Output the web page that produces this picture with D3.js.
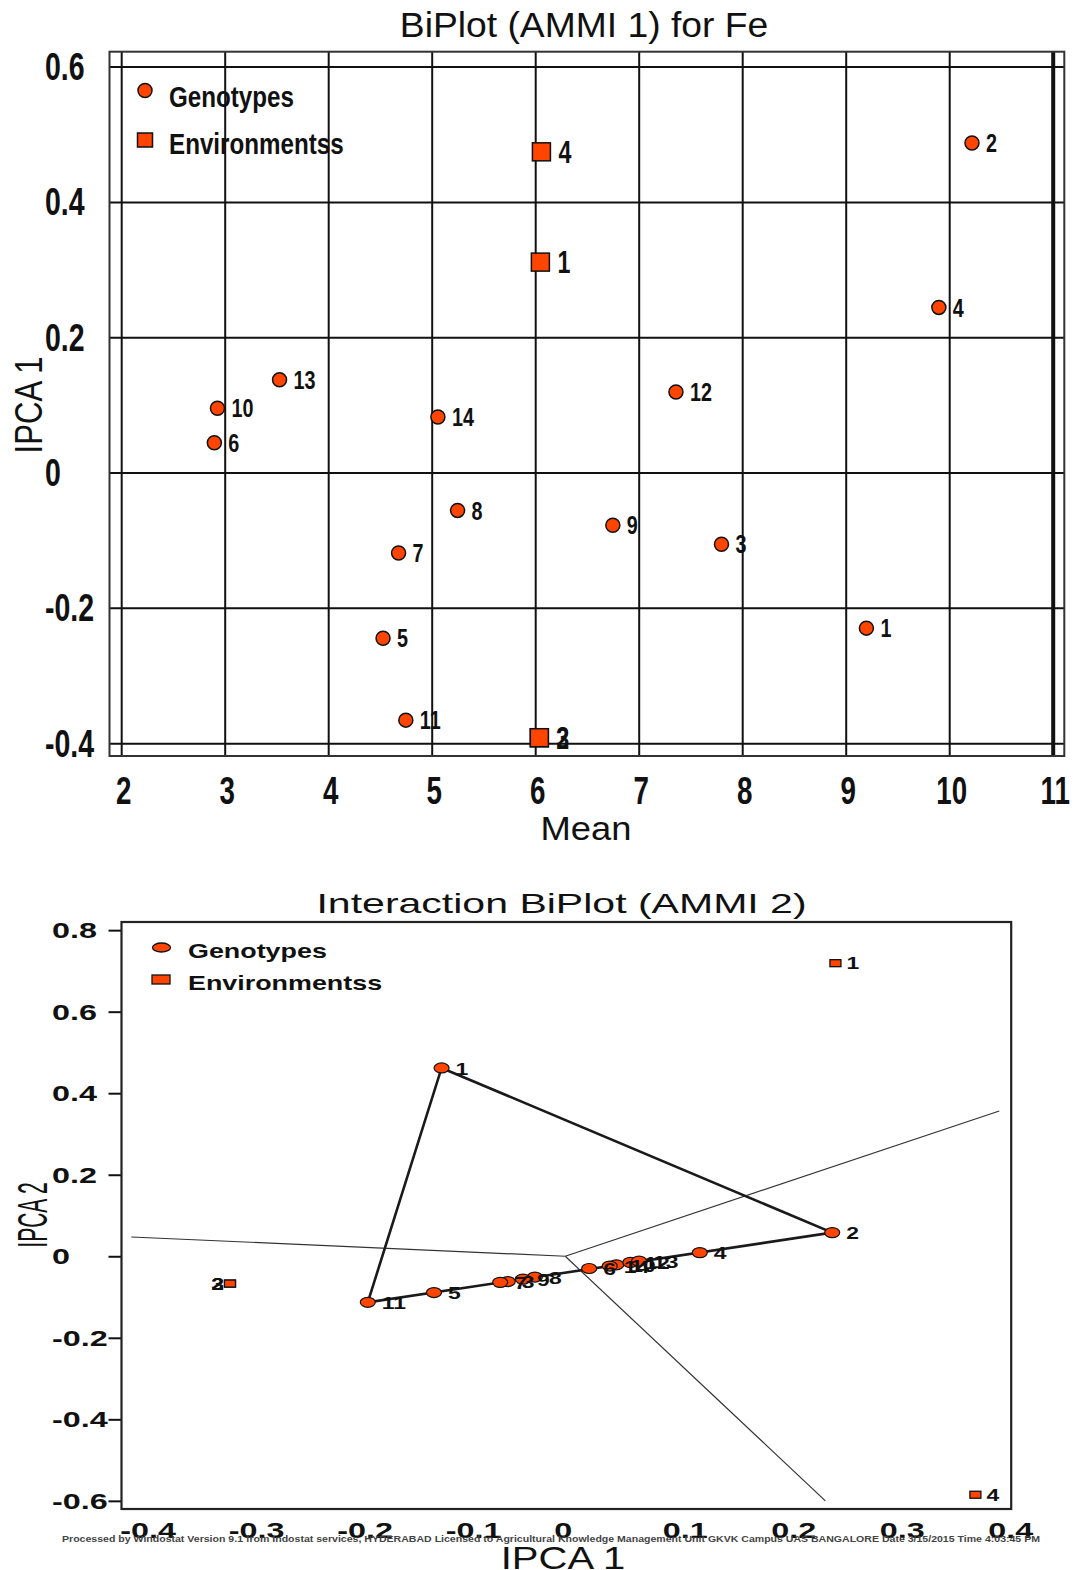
<!DOCTYPE html>
<html>
<head>
<meta charset="utf-8">
<script src="https://cdn.jsdelivr.net/npm/d3@7"></script>
<style>
  body { margin: 0; background: #fff; }
  svg { display: block; }
</style>
</head>
<body>
<svg id="chart" width="1078" height="1570"></svg>
<script>
// AMMI 1: genotype / environment mean vs IPCA 1
const genotypes = ['1', '2', '3', '4', '5', '6', '7', '8', '9', '10', '11', '12', '13', '14'];
const genoMean = [9.20, 10.22, 7.80, 9.90, 4.53, 2.90, 4.68, 5.25, 6.75, 2.93, 4.75, 7.36, 3.53, 5.06];
const genoIpca1 = [-0.230, 0.487, -0.106, 0.244, -0.245, 0.044, -0.119, -0.056, -0.078, 0.095, -0.366, 0.119, 0.137, 0.082];

const environments = ['1', '2', '3', '4'];
const envMean = [6.05, 6.04, 6.04, 6.06];
const envIpca1 = [0.311, -0.392, -0.392, 0.474];

// AMMI 2: IPCA 1 vs IPCA 2
const genoPc1 = [-0.114, 0.246, -0.053, 0.124, -0.121, 0.022, -0.060, -0.028, -0.039, 0.047, -0.182, 0.060, 0.068, 0.041];
const genoPc2 = [0.462, 0.058, -0.062, 0.009, -0.089, -0.030, -0.064, -0.051, -0.056, -0.021, -0.113, -0.015, -0.012, -0.024];
const envPc1 = [0.249, -0.309, -0.309, 0.378];
const envPc2 = [0.719, -0.067, -0.067, -0.585];
const hullGenotypes = ['1', '2', '11'];

const meanTicks = [2, 3, 4, 5, 6, 7, 8, 9, 10, 11];
const ipca1Ticks = [-0.4, -0.2, 0, 0.2, 0.4, 0.6];
const pc1Ticks = [-0.4, -0.3, -0.2, -0.1, 0, 0.1, 0.2, 0.3, 0.4];
const pc2Ticks = [-0.6, -0.4, -0.2, 0, 0.2, 0.4, 0.6, 0.8];

const legendItems = ['Genotypes', 'Environmentss'];

const ORANGE = '#ff4500';
const INK = '#111';
const FONT = '"Liberation Sans", Arial, sans-serif';
const fmt = (d) => String(+d.toFixed(1));

const svg = d3.select('#chart');

function addText(parent, str, x, y, o) {
  let tf = `translate(${x},${y})`;
  if (o.rotate) tf += ` rotate(${o.rotate})`;
  tf += ` scale(${o.sx || 1},${o.sy || 1})`;
  return parent.append('text')
    .attr('transform', tf)
    .attr('text-anchor', o.anchor || 'start')
    .attr('dy', o.dy || 0)
    .style('font-family', FONT)
    .style('font-size', `${o.size}px`)
    .style('font-weight', o.weight || 'normal')
    .attr('fill', o.fill || INK)
    .text(str);
}

// restyle tick labels of a d3 axis
function styleTicks(axisG, o) {
  axisG.selectAll('.tick text')
    .attr('x', null).attr('y', null).attr('dy', null)
    .attr('text-anchor', o.anchor)
    .attr('dominant-baseline', 'central')
    .attr('transform', `translate(${o.dx},${o.dy}) scale(${o.sx},1)`)
    .attr('fill', INK)
    .style('font-family', FONT)
    .style('font-size', `${o.size}px`)
    .style('font-weight', 'bold');
}

function drawAmmi1() {
  const x = d3.scaleLinear().domain([1.887, 11.112]).range([109.5, 1064.3]);
  const y = d3.scaleLinear().domain([-0.419, 0.622]).range([756, 51.7]);
  const g = svg.append('g');
  const [x0, x1] = x.range();
  const [y0, y1] = y.range();

  // grid through the axes
  const xAxis = g.append('g')
    .attr('transform', `translate(0,${y0})`)
    .call(d3.axisBottom(x).tickValues(meanTicks).tickFormat(fmt).tickSize(-(y0 - y1)));
  xAxis.select('.domain').remove();
  xAxis.selectAll('.tick line')
    .attr('stroke', INK)
    .attr('stroke-width', (d) => (d === 11 ? 4 : 2));
  styleTicks(xAxis, { anchor: 'middle', dx: 2, dy: 35, sx: 0.73, size: 38 });

  const yAxis = g.append('g')
    .attr('transform', `translate(${x0},0)`)
    .call(d3.axisLeft(y).tickValues(ipca1Ticks).tickFormat(fmt).tickSize(-(x1 - x0)));
  yAxis.select('.domain').remove();
  yAxis.selectAll('.tick line').attr('stroke', INK).attr('stroke-width', 2);
  styleTicks(yAxis, { anchor: 'start', dx: 45 - x0, dy: 0, sx: 0.75, size: 38 });

  g.append('rect')
    .attr('x', x0).attr('y', y1)
    .attr('width', x1 - x0).attr('height', y0 - y1)
    .attr('fill', 'none').attr('stroke', '#333').attr('stroke-width', 2);

  // environments
  const envs = environments.map((e, i) => ({ name: e, x: envMean[i], y: envIpca1[i] }));
  g.selectAll('.env')
    .data(envs).enter().append('rect')
    .attr('x', (d) => x(d.x) - 9).attr('y', (d) => y(d.y) - 9)
    .attr('width', 18).attr('height', 18)
    .attr('fill', ORANGE).attr('stroke', INK).attr('stroke-width', 1.5);
  envs.forEach((d) => addText(g, d.name, x(d.x) + 17, y(d.y), { size: 31, weight: 'bold', sx: 0.75, dy: '0.35em' }));

  // genotypes
  const genos = genotypes.map((n, i) => ({ name: n, x: genoMean[i], y: genoIpca1[i] }));
  g.selectAll('.geno')
    .data(genos).enter().append('circle')
    .attr('cx', (d) => x(d.x)).attr('cy', (d) => y(d.y))
    .attr('r', 7)
    .attr('fill', ORANGE).attr('stroke', INK).attr('stroke-width', 1.5);
  genos.forEach((d) => addText(g, d.name, x(d.x) + 14, y(d.y), { size: 26, weight: 'bold', sx: 0.76, dy: '0.35em' }));

  // legend
  g.append('circle').attr('cx', 145).attr('cy', 90.5).attr('r', 7)
    .attr('fill', ORANGE).attr('stroke', INK).attr('stroke-width', 1.5);
  g.append('rect').attr('x', 137.5).attr('y', 133).attr('width', 15).attr('height', 14)
    .attr('fill', ORANGE).attr('stroke', INK).attr('stroke-width', 1.5);
  addText(g, legendItems[0], 169, 107, { size: 29.5, weight: 'bold', sx: 0.82 });
  addText(g, legendItems[1], 169, 154, { size: 29.5, weight: 'bold', sx: 0.82 });

  addText(g, 'BiPlot (AMMI 1) for Fe', 584, 37, { size: 34.5, anchor: 'middle', sx: 1.08 });
  addText(g, 'Mean', 586, 840, { size: 32.5, anchor: 'middle', sx: 1.12 });
  addText(g, 'IPCA 1', 42, 405, { size: 38, anchor: 'middle', rotate: -90, sx: 0.82 });
}

function drawAmmi2() {
  const x = d3.scaleLinear().domain([-0.409, 0.411]).range([121.5, 1011.2]);
  const y = d3.scaleLinear().domain([-0.62, 0.82]).range([1509, 922]);
  const g = svg.append('g');
  const [x0, x1] = x.range();
  const [y0, y1] = y.range();
  const S = 1.47;

  const yAxis = g.append('g')
    .attr('transform', `translate(${x0},0)`)
    .call(d3.axisLeft(y).tickValues(pc2Ticks).tickFormat(fmt).tickSize(13));
  yAxis.select('.domain').remove();
  yAxis.selectAll('.tick line').attr('stroke', INK).attr('stroke-width', 2);
  styleTicks(yAxis, { anchor: 'start', dx: 52 - x0, dy: 0, sx: S, size: 22 });

  const xAxis = g.append('g')
    .attr('transform', `translate(0,${y0})`)
    .call(d3.axisBottom(x).tickValues(pc1Ticks).tickFormat(fmt).tickSize(0));
  xAxis.select('.domain').remove();
  styleTicks(xAxis, { anchor: 'start', dx: -11.5, dy: 21, sx: S, size: 22 });

  g.append('rect')
    .attr('x', x0).attr('y', y1)
    .attr('width', x1 - x0).attr('height', y0 - y1)
    .attr('fill', 'none').attr('stroke', '#222').attr('stroke-width', 2.2);

  const genos = genotypes.map((n, i) => ({ name: n, x: genoPc1[i], y: genoPc2[i] }));
  const hull = hullGenotypes.map((n) => genos.find((d) => d.name === n));

  // which-won-where sector rays: perpendicular from origin to each hull side
  const [bx0, bx1] = d3.extent(pc1Ticks);
  const [by0, by1] = d3.extent(pc2Ticks);
  const rays = hull.map((a, i) => {
    const b = hull[(i + 1) % hull.length];
    const ex = b.x - a.x;
    const ey = b.y - a.y;
    const t = (a.x * ex + a.y * ey) / (ex * ex + ey * ey);
    const fx = a.x - t * ex;
    const fy = a.y - t * ey;
    const ks = [];
    if (fx > 0) ks.push(bx1 / fx); else if (fx < 0) ks.push(bx0 / fx);
    if (fy > 0) ks.push(by1 / fy); else if (fy < 0) ks.push(by0 / fy);
    const k = d3.min(ks);
    return [[0, 0], [fx * k, fy * k]];
  });
  const line = d3.line().x((d) => x(d[0])).y((d) => y(d[1]));
  g.selectAll('.ray')
    .data(rays).enter().append('path')
    .attr('d', line)
    .attr('fill', 'none').attr('stroke', '#333').attr('stroke-width', 1.2);

  g.append('path')
    .datum(hull.map((d) => [d.x, d.y]))
    .attr('d', (d) => `${line(d)}Z`)
    .attr('fill', 'none').attr('stroke', '#1a1a1a').attr('stroke-width', 2.6);

  // environments
  const envs = environments.map((e, i) => ({ name: e, x: envPc1[i], y: envPc2[i] }));
  g.selectAll('.env')
    .data(envs).enter().append('rect')
    .attr('x', (d) => x(d.x) - 5.5).attr('y', (d) => y(d.y) - 3.5)
    .attr('width', 11).attr('height', 7)
    .attr('fill', ORANGE).attr('stroke', INK).attr('stroke-width', 1.3);
  envs.forEach((d) => {
    const left = d.x < 0;
    addText(g, d.name, x(d.x) + (left ? -6 : 11), y(d.y), {
      size: 17, weight: 'bold', sx: 1.35, dy: '0.35em', anchor: left ? 'end' : 'start',
    });
  });

  // genotypes
  g.selectAll('.geno')
    .data(genos).enter().append('ellipse')
    .attr('cx', (d) => x(d.x)).attr('cy', (d) => y(d.y))
    .attr('rx', 7.5).attr('ry', 5)
    .attr('fill', ORANGE).attr('stroke', INK).attr('stroke-width', 1.2);
  genos.forEach((d) => addText(g, d.name, x(d.x) + 14, y(d.y), { size: 17, weight: 'bold', sx: 1.35, dy: '0.4em' }));

  // legend
  g.append('ellipse').attr('cx', 161.5).attr('cy', 947.5).attr('rx', 9).attr('ry', 4.5)
    .attr('fill', ORANGE).attr('stroke', INK).attr('stroke-width', 1.3);
  g.append('rect').attr('x', 152).attr('y', 975).attr('width', 18).attr('height', 9)
    .attr('fill', ORANGE).attr('stroke', INK).attr('stroke-width', 1.3);
  addText(g, legendItems[0], 188, 958, { size: 21, weight: 'bold', sx: 1.28 });
  addText(g, legendItems[1], 188, 990, { size: 21, weight: 'bold', sx: 1.28 });

  addText(g, 'Interaction BiPlot (AMMI 2)', 561.5, 913, { size: 27, anchor: 'middle', sx: 1.52 });
  addText(g, 'IPCA 2', 47, 1215, { size: 21, anchor: 'middle', rotate: -90, sy: 2.0 });

  addText(g, 'Processed by Windostat Version 9.1 from Indostat services, HYDERABAD Licensed to Agricultural Knowledge Management Unit GKVK Campus UAS BANGALORE Date 3/15/2015  Time 4:03:45 PM', 62, 1542, { size: 9, weight: 'bold', fill: '#444' })
    .attr('textLength', 978).attr('lengthAdjust', 'spacingAndGlyphs');
  addText(g, 'IPCA 1', 563, 1569, { size: 32, anchor: 'middle', sx: 1.25 });
}

drawAmmi1();
drawAmmi2();
</script>
</body>
</html>
